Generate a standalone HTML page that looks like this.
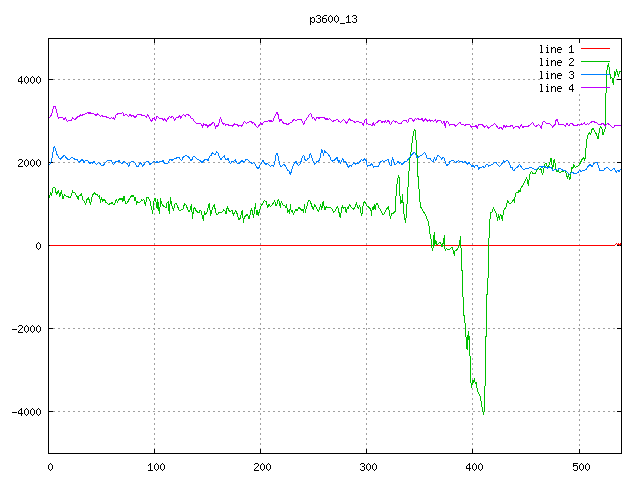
<!DOCTYPE html>
<html lang="en"><head><meta charset="utf-8"><title>p3600_13</title>
<style>
html,body{margin:0;padding:0;background:#fff}
body{width:640px;height:480px;position:relative;overflow:hidden;font-family:"Liberation Sans",sans-serif}
svg{position:absolute;left:0;top:0;display:block}
.s{position:absolute;font-size:10.67px;line-height:12px;height:12px;white-space:pre;color:transparent;overflow:hidden}
.r{text-align:right}.c{text-align:center}
.m{font-family:"Liberation Mono",monospace;font-size:10px}
</style></head><body>
<svg width="640" height="480" viewBox="0 0 640 480" shape-rendering="crispEdges" role="img" aria-label="p3600_13 line plot">
<rect width="640" height="480" fill="#fff"/>
<g stroke="#a0a0a0" stroke-width="1" stroke-dasharray="2 3" fill="none">
<line x1="53" y1="79.5" x2="621" y2="79.5"/>
<line x1="53" y1="162.5" x2="621" y2="162.5"/>
<line x1="53" y1="245.5" x2="621" y2="245.5"/>
<line x1="53" y1="328.5" x2="621" y2="328.5"/>
<line x1="53" y1="411.5" x2="621" y2="411.5"/>
<line x1="154.5" y1="43" x2="154.5" y2="453"/>
<line x1="260.5" y1="43" x2="260.5" y2="453"/>
<line x1="366.5" y1="43" x2="366.5" y2="453"/>
<line x1="472.5" y1="43" x2="472.5" y2="453"/>
<line x1="579.5" y1="44" x2="579.5" y2="453"/>
</g>
<rect x="540" y="43" width="77" height="50" fill="#fff"/><rect x="616" y="79" width="1" height="1" fill="#a0a0a0"/>
<path fill="#000" d="M48 79h5v1h-5zM617 79h5v1h-5zM48 162h5v1h-5zM617 162h5v1h-5zM48 245h5v1h-5zM617 245h5v1h-5zM48 328h5v1h-5zM617 328h5v1h-5zM48 411h5v1h-5zM617 411h5v1h-5zM48 38h1v5h-1zM48 449h1v5h-1zM154 38h1v5h-1zM154 449h1v5h-1zM260 38h1v5h-1zM260 449h1v5h-1zM366 38h1v5h-1zM366 449h1v5h-1zM472 38h1v5h-1zM472 449h1v5h-1zM579 38h1v5h-1zM579 449h1v5h-1z"/>
<rect x="48.5" y="38.5" width="573" height="415" fill="none" stroke="#000" stroke-width="1"/>
<g fill="none" stroke-width="1" stroke-linejoin="bevel">
<path d="M581 48.5h29" stroke="#ff0000"/>
<polyline points="49.5,245.5 614.5,245.5 615.5,244.5 616.5,243.5 617.5,244.5 618.5,243.5 619.5,245.5 620.5,243.5" stroke="#ff0000"/>
<path d="M581 61.5h29" stroke="#00c000"/>
<polyline points="49.25,198.12 50.5,192.5 51.5,195.62 52.75,188.5 54,187.25 55.25,188.5 56.5,195 57.75,191.25 58.62,190 59.5,196.88 60.5,195 61.25,190 62.38,196.25 63.25,199.38 64.25,194.38 65.25,195.62 66.75,196.88 68.25,196.5 69.5,198.12 70.75,196.25 71.75,193.75 72.5,190.62 73.62,193.12 74.88,192.5 76.12,195.62 77.38,196.88 78.25,200 79.25,195 80.25,196.25 81.5,193.5 82.75,199.38 84.25,201.25 85.5,204.38 87,199.38 88.62,197.5 89.5,201.88 90.5,204.38 91.75,198.12 93,194.38 94.5,192.5 95.75,195 97.38,194.75 98.62,196.88 99.5,195.62 100.5,203.12 101.5,196.88 102.5,201.88 103.62,199.38 104.5,199 105.5,201.88 106.5,202.75 107.75,203.5 108.62,205.25 109.88,203.12 111.12,203.75 112,201.88 113,204.38 114.25,205.25 115.5,201.25 116.5,199.38 117.38,202.5 118.62,200 119.88,198.75 121.12,199.38 122,198.12 122.75,201.88 123.62,198.12 124,196.25 125.5,203.12 127.12,203.12 128.75,200 130.25,197.5 131.75,195.62 132.75,196.25 133.75,195 134.62,200.62 135.5,197.5 136.5,204.38 137.5,201.88 139,202.25 140.5,201.88 141.5,199.75 142.75,200.62 143.75,199.38 144.62,202.5 145.5,206.25 146.5,198.12 147.75,197.25 149,199 150.25,201.25 151.25,206.88 152.12,210 152.75,214.38 153.38,204.38 154.62,198.75 155.5,198.12 156.25,203.12 157.12,208.75 157.75,199.38 158.75,208.75 159.62,214.38 160.5,198.5 161.5,203.12 162.5,204.38 163.75,207.25 164.62,206.25 165.88,208.12 167.12,202.75 168.38,201.25 169.25,214.38 170.5,197.5 171.5,205 172.75,207.5 173.38,211.25 174.62,204.38 176.25,203.5 177.5,206.25 179,210 180,211.25 181.5,209.38 183,209 184.62,203.5 186.25,205.62 187.75,209.38 188.75,211.88 190,210 191.5,204.38 192.5,219.38 193.38,210 194.62,207.25 195.88,210.62 197.5,211.88 198.75,213.12 200,210 201.25,211.25 202.5,217.5 203.5,221.25 204.38,210.62 205.25,215 206.25,213.12 207.5,211.25 208.5,205.62 209.5,203.12 210.5,216.25 211.5,211.25 212.5,208.12 213.5,206.25 214.38,204.38 215.25,210 216.25,213.75 217.5,215.25 218.75,211.88 220.62,212.25 222.5,211.88 223.75,209.75 224.75,210.25 226,214.38 226.88,208.75 227.5,206.25 228.5,210.62 230,211.25 231.25,211 232.25,210 233.5,215.62 234.38,213.12 235.62,210.62 236.88,213.12 238.12,217.25 239,219.38 240.25,218.12 241.25,214.38 242.25,210.25 243.12,218.75 243.5,223.12 244.38,216.88 245.62,216 247.25,214.38 248.5,217.25 249.38,219.38 250.25,213.12 251.5,208.5 252.5,212.5 253.5,217.5 254.75,208.75 255.62,203.5 256.25,213.12 257,215.25 257.75,210 258.5,215.62 259.75,210 261,206.25 262.5,203.75 264.38,200.62 266,201.25 266.88,204.38 267.75,208.12 268.75,203.75 270.25,206.88 271.88,205 273.5,203.12 274.75,200.62 276,206.25 277.25,203.12 278.5,198.75 279.5,203.12 280.38,207.5 281.25,201.25 282.25,203.75 283.5,205.62 284.75,205 285.75,207.5 286.62,203.75 287.5,212.5 288.5,210 289.5,214.38 290.38,204.38 291.25,211.88 292.25,210 293.25,214.38 294.5,211.88 296,209.38 297.25,210.62 298.75,207.5 300.38,208.5 301.62,210.62 302.88,209.75 303.75,212.5 304.5,203.75 305.38,213.12 306.25,208.12 307.5,205 308.5,200 309.75,200.62 311,203.5 312.25,207.25 313.25,210 314.75,204.38 316,206.88 317.5,210 318.75,211.25 320,206.88 320.75,204.38 321.62,210 322.5,205 323.25,200.62 324.12,206.25 325,210 326,206.88 327.5,207.25 329.12,208.12 330.38,207.25 331.62,208.75 332.88,210.62 333.75,212.25 335.38,210.62 336.62,207.5 337.5,206.25 338.5,210 339.5,214.75 340.5,218.12 341.25,210 342.25,205.62 343.25,208.75 344.12,206.88 345,207.5 346.25,213.12 347.25,207.5 348.25,208.75 349.5,203.75 350.75,206.88 352,208.12 353.5,209.38 354.75,207.5 355.75,204.38 356.5,202.25 357.62,207.5 358.5,208.75 359.25,205.62 360.12,207.5 361,213.12 361.5,215.62 362.25,212.5 363.25,204.38 364.5,201.25 365.5,203.12 366.75,205.62 368.25,206.88 369.5,208.12 370.75,208.75 371.5,215.62 372.25,207.5 373.25,210 374.25,204.38 375.12,210 376.38,203.5 377.62,203.75 378.88,207.5 380.5,210 382,213.12 383.25,215.25 384.75,212.5 386,210.25 387.25,208.12 388.5,206.25 389.5,213.12 390.5,219.38 391.38,213.12 392.25,214 393.88,212.5 395.12,211.25 395.75,201.25 396.5,187.5 397.62,180.62 398.5,175.25 399.25,177.5 399.75,191.25 400.5,204.38 401.38,200 402,203.12 402.5,194 403.25,205 404.25,216.25 405.5,222.5 406.5,213.12 407.5,196.25 408.5,177.75 409.5,165 410.12,156.25 411,152.5 411.75,145 412.62,138.12 413.5,132.5 414.5,129 415.5,130.62 416,140 416.75,150 417.25,158.75 417.62,175 418.25,177.5 419.25,192.5 420.12,203.12 420.75,207.25 422.25,209.38 423.88,212.5 425.5,214.38 426.75,218.75 428.25,221.88 429.25,226.88 430.12,235 431.38,241.25 432.25,250.62 433,248.12 433.5,240 434.25,232.5 434.75,245.62 435.75,240 437,245 438.5,243.5 440.5,241.88 441.75,246.5 442.62,246.25 443.5,240 444.5,235.25 445.12,251.25 446.38,248.12 447.25,249.38 448.88,250 450.5,248.5 452.25,247.5 453.5,251.88 454.5,255.62 455.12,250 456.38,250.62 457.62,248.75 458.5,246.88 459.5,243.12 460.5,236.25 461,247.5 461.5,260 461.5,260 461.5,270 462.5,270.62 462.5,296.88 463.5,297.5 463.5,315 463.5,315 464.5,315.62 464.5,322.5 465.5,323.12 465.5,336.88 466.5,337.5 466.5,347.5 467.5,350 467.5,340 468.5,331.25 469,340 469.5,336.25 469.5,355.62 470.5,356.25 470.5,365 470.5,378.75 471.5,387.5 472.25,383.75 472.75,380 473.5,382.5 474.5,378.12 475.25,383.75 476.25,382.5 477.25,389.38 478.5,393.12 479.38,395 480.25,396.25 481.25,402.5 482.25,408.12 483.5,414.75 484.5,410 484.5,386.25 485.5,385.62 485.5,365 485.5,336.88 486.5,336.25 486.5,310 486.5,295 487.5,294.38 487.5,278.12 488.5,277.5 488.5,256.88 488.88,241.25 489.5,225 490.5,212.5 492.12,212.25 493.38,207.5 494.62,210.62 495.88,212.25 497.12,217.5 497.75,220.62 498.5,214.38 499.25,220 500.25,214.38 501.5,216.25 502.5,220.62 503.38,211.25 504.62,209.38 506.25,206.25 507.75,200.62 509,203.12 510.25,204 512.12,201.88 513.75,199.38 514.5,203.12 515.25,194.38 516.75,191.88 517.75,193.12 519,190.62 520,191.88 521.25,187.5 522.75,185.62 524,183.12 525.5,180 526.5,177.5 527.5,181.25 528.38,186.25 529.25,177.5 530.25,173.12 531.5,171.25 532.75,174 534,172.75 535,174 536.75,170 538.38,167.5 539.62,170 540.88,168.75 542.5,175 543.75,169.75 544.62,164.38 546.25,163.5 547.75,168.12 549.62,163.75 550.88,158.75 551.5,158.5 552.5,171.25 553.75,160 554.62,159.38 555.5,167.5 557.12,171.88 558.38,170.62 559.62,173.12 561.25,171.88 562.75,171.88 564.62,170.62 566.25,173.12 567.5,179.38 568.38,173.75 569.62,180 570.25,178.75 571.5,166.88 572.75,168.75 573.75,164.38 575.25,167.5 577.12,166.25 578.75,165.62 580.25,163.12 582.12,159.38 582.5,159.38 583.75,157.5 584.75,161.25 585.62,153.12 586.5,142.5 587.5,136.25 589.38,132.5 590.62,134.75 592.5,127.75 594.38,130.62 596.25,133.75 598.12,139.38 599.38,130 600.62,126.25 601.88,127.75 603.12,135.25 604.38,131.25 605.5,127.75 605.5,95 605.5,93.5 606.5,92.5 606.5,72.5 607.6,66.9 608.6,63.1 609.7,72.8 610.8,78.4 611.8,77 612.9,83 613.5,84.5 614.5,71.3 615.5,75.6 616.5,69 617.5,73 618.5,76.5 619.5,72 620.5,71" stroke="#00c000"/>
<path d="M581 74.5h29" stroke="#0080ff"/>
<polyline points="49.25,164.38 50.75,163.12 52.38,156.88 53.62,148.12 54.5,146.25 55.75,150 57,154.38 58.62,157.5 60.25,159.38 61.75,157.5 63.25,156.25 64.5,155.38 66.12,157.75 67.75,159.38 69.88,159.38 71.75,157.25 73.62,158.5 75.5,159.75 77.38,159.75 79.25,162.5 80.75,160.62 82.38,159.38 84,162.5 85.5,160.62 87,160 88.62,161.88 89.88,163.75 91.12,161.88 92.38,163.5 94,161.25 95.5,163.5 96.75,164.38 98.25,162.5 99.88,163.5 101.5,165.25 103.62,165.25 105.25,162.5 107.38,160.38 109.25,160.62 111.12,160.38 112.38,163.12 113.62,164.38 114.88,162.5 116.5,161 118,161.5 119,160.38 120.5,162.75 121.75,163.5 123,162.5 124,161.25 125.88,162.75 127.5,163.75 128.75,166.5 130,162.75 131.75,161.25 133.38,161.5 135,162.75 136.5,166.25 138.38,166.25 140,162.75 141.25,163.5 142.5,166.5 144,164.38 145.5,162.5 147.12,161.25 148.38,161.88 149.62,164.38 151.5,163.5 153.38,161.88 154.62,161.25 155.88,162.75 157.12,161.5 158.38,162.75 160.25,161.25 162.12,161.25 163.38,160.62 164.25,163.12 166.5,163.5 168,163.12 169.62,160 170.88,159.38 172.12,160.38 174,159 175.88,158.12 177.75,157.75 179,157.5 180.25,159 181.5,161.25 182.75,157.75 184.25,156.5 185.88,155.38 187.75,156.5 189,157.25 190.25,159.38 191.5,161.25 192.75,156.88 194.25,156.5 195.88,157.75 197.5,159.75 199,160 200,160.38 201.88,162.75 203.75,160.62 205.62,159 206.88,159.38 208.12,160.38 209.38,156.5 211,155.62 212.5,152.5 214.38,154.38 215.62,155 216.5,151.5 218.12,153.12 219.38,156.88 221,159.38 222.5,157.25 224.38,155.62 225.62,160 226.88,159.38 228.12,158.5 229.38,161.88 230.62,163.5 232.25,161.25 233.75,161.25 235.25,159.75 236.5,162.5 238.12,163.75 240,162.75 241.88,160.38 243.75,162.25 245.25,160.38 246.88,159 248.75,160.62 250.62,162.5 252.25,163.5 253.75,162.75 255.25,164.38 256.88,167.25 258.5,168.75 259.75,165.62 261.25,163.5 263.12,160.38 264.38,162.75 266,164.38 267.5,163.12 269,165 270.25,166.5 271.88,165.62 273.5,166.25 274.75,163.12 276,155 277.25,153.12 278.25,156.88 279.5,163.75 281,166.5 282.5,165.62 283.75,164.38 285,165.62 286.25,167.5 287.5,170 288.75,170.62 290.38,174.38 291.62,170.62 292.88,166.25 294.5,163.12 296,161.5 297.5,164.38 298.5,165.62 300,163.75 301.62,160 302.5,156.25 303.75,155.62 305,159.38 306,161.25 307.5,159 308.75,158.5 309.75,155 310.75,153.75 312,158.12 313.5,161.88 315,164.38 316.62,161.88 318.25,161.25 319.5,160 320.75,154.38 321.62,149.38 322.88,152.5 323.5,155.62 324.5,150.62 325.75,152.25 327.25,153.12 328.5,155 329.75,156.25 331.25,160.38 332.88,161.25 334.5,160 336,158.5 337.25,157.5 338.5,162.5 339.5,160.38 340.38,163.75 341.62,160.62 342.5,158.5 343.75,161.25 345.38,161.25 347,164.38 348.5,167.5 350,165.62 351.62,166.5 352,165.25 353.88,162.75 355.75,164.38 357.62,162.75 358.88,163.5 360.5,160.62 361.75,159.38 363,161.25 364.5,158.5 366,160.38 367.25,166.25 368.88,165 370.5,165.25 371.75,163.75 373.5,167.25 374.75,166.25 376.38,166.88 378.25,166.88 379.75,162.5 381.38,161.25 382.62,160.62 383.88,161.88 385.12,160.62 386.75,160 388.25,159.38 389.5,163.75 390.75,166.25 391.75,163.75 392.25,157.5 393.5,159.38 394.5,164 396.38,164 398,161.25 399.25,163.12 400.5,162.5 402,165 403.25,163.12 404.5,161.88 407,161.25 408.88,158.12 410.5,156.25 412.62,153.75 414.5,151.88 415.75,154.38 417,157.75 418.88,156.88 420.75,155.62 422.62,154.38 424.5,152.5 425.75,154.38 426.75,157.75 428,158.5 430.25,158.5 431.5,160.62 433.25,162.25 434.5,157.5 435.5,161.25 436.5,158.12 437.75,155.38 439.25,156.25 440.5,157.5 441.75,159.38 443,157.25 444.25,158.5 445.5,163.12 446.75,166.25 447.75,164.38 448.62,165 449.88,161.5 451.5,160.62 453,160 454.5,161.25 455.75,163.12 457.38,161.25 458.62,160.38 460.25,161.88 461.75,161.25 463,162.5 464.88,161.25 466.5,163.12 467.75,164.38 469,162.5 470.5,164.38 471.75,166.5 473,165.62 474.25,167.25 475.5,165.62 477,165 478,166.88 478.62,170 479.88,166.88 481.5,167.25 483,166.25 484.5,168.12 485.75,165 487.38,164 488.62,166.25 490.5,165.25 492.38,164.38 494.25,162.5 496.12,162.5 497.75,165 499.25,166.5 501.12,165 502.38,162.75 503.62,160.62 504,162.25 505.88,161.25 507.12,160 508.38,161.88 510,165 510.88,167.5 512.12,166.88 513.38,171.25 515.25,168.75 517.12,167.25 518.38,166.25 519.62,164.38 520.88,166.25 522.5,168.5 524,169.75 525.88,168.5 528.38,168.5 530.88,167.25 532.75,168.5 535,169.75 536.75,169.38 538.38,167.25 540.25,166.5 542.12,167.25 544,166.25 545.88,167.25 547.75,168.12 549.62,166.88 551.5,167.5 553,171.25 554.25,169.75 555.88,169.38 557.5,170.62 559,168.5 560,168.5 561.88,169.75 563.75,170.62 565.62,170.25 567.5,172.5 569.38,174.75 571,173.12 572.5,172.25 574.38,173.5 576.25,173.5 578.12,172.5 579.75,170.25 581,171.88 582.5,170.62 584.38,170.25 586.25,169.38 588.12,166.25 590,164.75 591.25,165.62 592.25,166.5 593.75,163.75 595.62,162.5 597.25,162.75 598.5,166.25 600,171 601.88,170.25 603.5,171 604.75,168.75 606.88,167.25 608.75,168.75 610.62,170.62 612.25,169.75 614,168.5 615.62,170.62 616.5,173.12 617.5,169.75 619,171.88 620.62,169.38 621,170" stroke="#0080ff"/>
<path d="M581 87.5h29" stroke="#c000ff"/>
<polyline points="49.25,118.12 51.75,114.38 53.62,106.88 55.5,106.5 57.38,115 58.62,118.5 60.5,116.88 61.75,118.12 62.75,117.5 63.62,120 65.25,117.5 67.38,121.5 68.62,120 71.12,120.38 72.62,117.75 74.25,119.38 75.75,119 78,116.25 79,116.88 80.75,114.75 82,115.38 83,114.38 84.25,114.38 86.12,113.38 88,112.25 89,114.12 89.88,112.5 91.12,113.75 93.62,113.5 96.12,115.62 97.62,113.5 100.5,116.5 101.75,115.25 103,116.5 105.5,116.5 108,117.75 109.88,118.5 111.75,117.5 113,118.75 113.62,117.25 114.5,119.38 116.12,114.75 118.62,113.5 121.12,113.75 122.62,112.5 124,115.62 126.5,114.38 128.75,116.5 130,114.38 131.5,116.25 132.75,115 133.75,116.25 135.25,117.5 137.12,115 139,114.12 140.88,114.38 142.75,116 144.62,115.62 146.5,117.5 147.75,114.38 149,116.88 150.5,120 151.5,122.25 152.75,118.12 154,118.75 154.62,117.5 155.25,121.25 156.75,116.25 158,117.25 159.62,118.38 162.12,118.5 163.75,120.62 164.62,118.38 166.5,121.5 167.75,118.75 169.62,116.5 170.88,118.12 172.12,116.5 173.38,117.5 174.62,120.38 175.88,118.12 177.12,116.88 178.38,117.5 179.62,115.62 180.88,118.5 181.75,116.25 183.75,114.38 185.25,116.25 186.5,114.38 188,114.62 189.62,115.62 191.5,118.75 192.75,118.5 194.62,121.88 196.5,123.12 198.38,123.5 200,123.5 201.25,124.38 202.5,127.5 203.5,123.75 205,124.38 206,125.62 206.88,124.75 207.75,127.5 209,124.75 210.25,125.62 211.88,123.5 213.75,122.25 214.75,124.75 215.62,128.5 216.5,125.62 217.5,126.25 218.75,124.38 219.75,119.38 220.62,117.5 221.88,121.88 223.5,124.38 224.75,123.5 225.62,125.25 226.88,124 228.75,125.25 230.62,125.62 232.5,126.25 234.38,123.75 235.62,125 236.88,124.38 238.75,126.25 240,125 241.25,126.5 242.75,124.38 244.38,121.5 246.5,123.5 248.12,122.5 249.75,121.25 251.25,121.5 252.5,123.12 253.75,122.5 255.62,125.62 257.5,127.75 259.38,125 260.62,122.5 261.88,125 263.12,123.12 264.75,121.25 266.88,121.88 268.5,120.62 270,121.25 271.25,120.62 272.5,122.25 274,118.12 275.62,114.38 276,113.75 277,112.5 278.25,115 279.5,121.88 281,119.38 282.88,122.25 284.5,124 286,123.5 287.88,125 289.12,123.5 290.75,122.5 291.62,123.12 292.88,120.62 294.5,119.38 296,121 297.5,119.38 299.5,119.38 301,119.38 302.5,122.25 303.75,124.75 305,121.25 306.62,118.75 308.25,116.88 309.5,114.38 310.75,113.5 311.62,115 312.5,119.38 313.25,116.88 314.75,119.38 315.38,120.62 316.25,118.12 317.88,117.5 319.12,118.5 320.38,117.25 322.25,117.5 324.12,117.5 326,119.38 327.25,118.5 328.5,120 329.5,118.5 331,120.25 332.5,121.5 334.12,120.62 335.75,120 337.25,119.38 339.12,121.5 340.75,122.5 342,121.25 343.5,119.38 345,121 346.62,123.5 348.25,120.62 349.75,118.5 351,120.62 352,120.62 353.88,121.25 355.12,122.75 356.38,121.25 358.25,121.88 360.12,122.5 362,123.12 363.5,126.25 364.5,120.62 366,119.38 367,123.5 368.88,124.38 370.75,124.75 372.25,126.25 373.25,122.5 374.25,126.25 375.5,123.12 377,122.5 378.88,120.62 380.75,120.62 382,122.5 383.25,121 384.25,122.5 385.5,120.62 386.38,123.12 388.25,119.75 389.5,122.5 390.5,125 392,121.88 393.5,120.62 395.12,122.25 396.38,121.5 398,123.12 399.5,123.12 401.38,123.12 403.25,120.62 405.12,120.25 406.38,120.62 407.62,123.12 408.88,119.38 410.12,118.12 412,119 413.5,121.25 415.12,118.5 416.38,119.38 417.62,118.12 419.5,120 420.75,119.38 422.25,118.5 423.5,121.88 425.12,118.5 426.75,120.62 428,121.25 429.5,119.75 430.75,121.25 432,119.75 433.62,121.5 435.25,119.38 436.5,122.5 437.75,120.38 440.5,120.38 442.38,123.5 444,121.5 445.25,127.5 446.12,121.88 447.38,121.25 448.62,122.75 449.5,126.25 450.5,124.38 454.25,124.38 455.5,126.25 457.38,124.38 459,123.12 460.25,122.5 461.5,125 463.25,124.38 464.88,125.38 466.5,124.38 468,125 469.88,124.75 471.5,127.25 473,126.25 474.88,126.5 476.12,125 477.38,128.5 478.25,124.75 479.88,125 481.5,124.38 483,125.38 484.88,127.25 486.12,125.62 487.38,126.25 488.62,128.5 490.25,126.88 491.75,125.38 493,125 494.5,123.5 496.12,125 497.38,127.25 499,128.75 500.5,126.88 502.38,129.38 504,125.62 505.25,127.5 506.5,125.62 507.75,126.88 509.62,126.25 512.12,125.62 513.75,128.75 515.25,126.5 517.75,126.25 519.25,128.5 521.25,124.38 522.75,127.5 524.62,126.25 527.75,126.25 529.62,125.62 530.88,124.38 532.5,122.25 534,125 535.88,126.5 537.12,125.62 538.38,124.38 540,126 541.25,128.5 542.5,122.5 544,121.25 546.5,123.5 549.62,123.5 551.25,125 552.75,127.5 554,125.62 555,124.75 555.88,120.62 557.5,119.38 558.38,124.38 560.88,124.38 563.75,124.75 565.25,126.5 566.88,123.5 568.75,125.62 570.62,123.5 572.5,124 574.38,125.62 576.25,126 578.12,124.38 579.75,125.62 581.25,123.5 582.5,125 584.38,122.5 585.62,125 587.25,123.5 588.75,124.38 590.62,122.5 593.12,121.25 595,122.25 596.88,123.12 598.75,125 600.62,124.38 602.5,123.5 604.38,124.38 605.25,126.25 607.25,123.5 609.38,124.38 611.25,126.5 613.12,127.75 615,125.62 616.88,125.38 621,125.38" stroke="#c000ff"/>
</g>
<path fill="#000" d="M310 17h1v1h-1zM312 17h2v1h-2zM310 18h2v1h-2zM314 18h1v1h-1zM310 19h1v1h-1zM314 19h1v1h-1zM310 20h1v1h-1zM314 20h1v1h-1zM310 21h2v1h-2zM314 21h1v1h-1zM310 22h1v1h-1zM312 22h2v1h-2zM310 23h1v1h-1zM310 24h1v1h-1zM317 15h3v1h-3zM316 16h1v1h-1zM320 16h1v1h-1zM320 17h1v1h-1zM318 18h2v1h-2zM320 19h1v1h-1zM320 20h1v1h-1zM316 21h1v1h-1zM320 21h1v1h-1zM317 22h3v1h-3zM324 15h3v1h-3zM323 16h1v1h-1zM322 17h1v1h-1zM322 18h4v1h-4zM322 19h1v1h-1zM326 19h1v1h-1zM322 20h1v1h-1zM326 20h1v1h-1zM322 21h1v1h-1zM326 21h1v1h-1zM323 22h3v1h-3zM330 15h1v1h-1zM329 16h1v1h-1zM331 16h1v1h-1zM328 17h1v1h-1zM332 17h1v1h-1zM328 18h1v1h-1zM332 18h1v1h-1zM328 19h1v1h-1zM332 19h1v1h-1zM328 20h1v1h-1zM332 20h1v1h-1zM329 21h1v1h-1zM331 21h1v1h-1zM330 22h1v1h-1zM336 15h1v1h-1zM335 16h1v1h-1zM337 16h1v1h-1zM334 17h1v1h-1zM338 17h1v1h-1zM334 18h1v1h-1zM338 18h1v1h-1zM334 19h1v1h-1zM338 19h1v1h-1zM334 20h1v1h-1zM338 20h1v1h-1zM335 21h1v1h-1zM337 21h1v1h-1zM336 22h1v1h-1zM340 23h5v1h-5zM348 15h1v1h-1zM347 16h2v1h-2zM346 17h1v1h-1zM348 17h1v1h-1zM348 18h1v1h-1zM348 19h1v1h-1zM348 20h1v1h-1zM348 21h1v1h-1zM346 22h5v1h-5zM353 15h3v1h-3zM352 16h1v1h-1zM356 16h1v1h-1zM356 17h1v1h-1zM354 18h2v1h-2zM356 19h1v1h-1zM356 20h1v1h-1zM352 21h1v1h-1zM356 21h1v1h-1zM353 22h3v1h-3zM21 76h1v1h-1zM20 77h2v1h-2zM19 78h1v1h-1zM21 78h1v1h-1zM18 79h1v1h-1zM21 79h1v1h-1zM18 80h1v1h-1zM21 80h1v1h-1zM18 81h5v1h-5zM21 82h1v1h-1zM21 83h1v1h-1zM26 76h1v1h-1zM25 77h1v1h-1zM27 77h1v1h-1zM24 78h1v1h-1zM28 78h1v1h-1zM24 79h1v1h-1zM28 79h1v1h-1zM24 80h1v1h-1zM28 80h1v1h-1zM24 81h1v1h-1zM28 81h1v1h-1zM25 82h1v1h-1zM27 82h1v1h-1zM26 83h1v1h-1zM32 76h1v1h-1zM31 77h1v1h-1zM33 77h1v1h-1zM30 78h1v1h-1zM34 78h1v1h-1zM30 79h1v1h-1zM34 79h1v1h-1zM30 80h1v1h-1zM34 80h1v1h-1zM30 81h1v1h-1zM34 81h1v1h-1zM31 82h1v1h-1zM33 82h1v1h-1zM32 83h1v1h-1zM38 76h1v1h-1zM37 77h1v1h-1zM39 77h1v1h-1zM36 78h1v1h-1zM40 78h1v1h-1zM36 79h1v1h-1zM40 79h1v1h-1zM36 80h1v1h-1zM40 80h1v1h-1zM36 81h1v1h-1zM40 81h1v1h-1zM37 82h1v1h-1zM39 82h1v1h-1zM38 83h1v1h-1zM19 159h3v1h-3zM18 160h1v1h-1zM22 160h1v1h-1zM22 161h1v1h-1zM21 162h1v1h-1zM20 163h1v1h-1zM19 164h1v1h-1zM18 165h1v1h-1zM18 166h5v1h-5zM26 159h1v1h-1zM25 160h1v1h-1zM27 160h1v1h-1zM24 161h1v1h-1zM28 161h1v1h-1zM24 162h1v1h-1zM28 162h1v1h-1zM24 163h1v1h-1zM28 163h1v1h-1zM24 164h1v1h-1zM28 164h1v1h-1zM25 165h1v1h-1zM27 165h1v1h-1zM26 166h1v1h-1zM32 159h1v1h-1zM31 160h1v1h-1zM33 160h1v1h-1zM30 161h1v1h-1zM34 161h1v1h-1zM30 162h1v1h-1zM34 162h1v1h-1zM30 163h1v1h-1zM34 163h1v1h-1zM30 164h1v1h-1zM34 164h1v1h-1zM31 165h1v1h-1zM33 165h1v1h-1zM32 166h1v1h-1zM38 159h1v1h-1zM37 160h1v1h-1zM39 160h1v1h-1zM36 161h1v1h-1zM40 161h1v1h-1zM36 162h1v1h-1zM40 162h1v1h-1zM36 163h1v1h-1zM40 163h1v1h-1zM36 164h1v1h-1zM40 164h1v1h-1zM37 165h1v1h-1zM39 165h1v1h-1zM38 166h1v1h-1zM38 242h1v1h-1zM37 243h1v1h-1zM39 243h1v1h-1zM36 244h1v1h-1zM40 244h1v1h-1zM36 245h1v1h-1zM40 245h1v1h-1zM36 246h1v1h-1zM40 246h1v1h-1zM36 247h1v1h-1zM40 247h1v1h-1zM37 248h1v1h-1zM39 248h1v1h-1zM38 249h1v1h-1zM12 329h5v1h-5zM19 325h3v1h-3zM18 326h1v1h-1zM22 326h1v1h-1zM22 327h1v1h-1zM21 328h1v1h-1zM20 329h1v1h-1zM19 330h1v1h-1zM18 331h1v1h-1zM18 332h5v1h-5zM26 325h1v1h-1zM25 326h1v1h-1zM27 326h1v1h-1zM24 327h1v1h-1zM28 327h1v1h-1zM24 328h1v1h-1zM28 328h1v1h-1zM24 329h1v1h-1zM28 329h1v1h-1zM24 330h1v1h-1zM28 330h1v1h-1zM25 331h1v1h-1zM27 331h1v1h-1zM26 332h1v1h-1zM32 325h1v1h-1zM31 326h1v1h-1zM33 326h1v1h-1zM30 327h1v1h-1zM34 327h1v1h-1zM30 328h1v1h-1zM34 328h1v1h-1zM30 329h1v1h-1zM34 329h1v1h-1zM30 330h1v1h-1zM34 330h1v1h-1zM31 331h1v1h-1zM33 331h1v1h-1zM32 332h1v1h-1zM38 325h1v1h-1zM37 326h1v1h-1zM39 326h1v1h-1zM36 327h1v1h-1zM40 327h1v1h-1zM36 328h1v1h-1zM40 328h1v1h-1zM36 329h1v1h-1zM40 329h1v1h-1zM36 330h1v1h-1zM40 330h1v1h-1zM37 331h1v1h-1zM39 331h1v1h-1zM38 332h1v1h-1zM12 412h5v1h-5zM21 408h1v1h-1zM20 409h2v1h-2zM19 410h1v1h-1zM21 410h1v1h-1zM18 411h1v1h-1zM21 411h1v1h-1zM18 412h1v1h-1zM21 412h1v1h-1zM18 413h5v1h-5zM21 414h1v1h-1zM21 415h1v1h-1zM26 408h1v1h-1zM25 409h1v1h-1zM27 409h1v1h-1zM24 410h1v1h-1zM28 410h1v1h-1zM24 411h1v1h-1zM28 411h1v1h-1zM24 412h1v1h-1zM28 412h1v1h-1zM24 413h1v1h-1zM28 413h1v1h-1zM25 414h1v1h-1zM27 414h1v1h-1zM26 415h1v1h-1zM32 408h1v1h-1zM31 409h1v1h-1zM33 409h1v1h-1zM30 410h1v1h-1zM34 410h1v1h-1zM30 411h1v1h-1zM34 411h1v1h-1zM30 412h1v1h-1zM34 412h1v1h-1zM30 413h1v1h-1zM34 413h1v1h-1zM31 414h1v1h-1zM33 414h1v1h-1zM32 415h1v1h-1zM38 408h1v1h-1zM37 409h1v1h-1zM39 409h1v1h-1zM36 410h1v1h-1zM40 410h1v1h-1zM36 411h1v1h-1zM40 411h1v1h-1zM36 412h1v1h-1zM40 412h1v1h-1zM36 413h1v1h-1zM40 413h1v1h-1zM37 414h1v1h-1zM39 414h1v1h-1zM38 415h1v1h-1zM50 463h1v1h-1zM49 464h1v1h-1zM51 464h1v1h-1zM48 465h1v1h-1zM52 465h1v1h-1zM48 466h1v1h-1zM52 466h1v1h-1zM48 467h1v1h-1zM52 467h1v1h-1zM48 468h1v1h-1zM52 468h1v1h-1zM49 469h1v1h-1zM51 469h1v1h-1zM50 470h1v1h-1zM150 463h1v1h-1zM149 464h2v1h-2zM148 465h1v1h-1zM150 465h1v1h-1zM150 466h1v1h-1zM150 467h1v1h-1zM150 468h1v1h-1zM150 469h1v1h-1zM148 470h5v1h-5zM156 463h1v1h-1zM155 464h1v1h-1zM157 464h1v1h-1zM154 465h1v1h-1zM158 465h1v1h-1zM154 466h1v1h-1zM158 466h1v1h-1zM154 467h1v1h-1zM158 467h1v1h-1zM154 468h1v1h-1zM158 468h1v1h-1zM155 469h1v1h-1zM157 469h1v1h-1zM156 470h1v1h-1zM162 463h1v1h-1zM161 464h1v1h-1zM163 464h1v1h-1zM160 465h1v1h-1zM164 465h1v1h-1zM160 466h1v1h-1zM164 466h1v1h-1zM160 467h1v1h-1zM164 467h1v1h-1zM160 468h1v1h-1zM164 468h1v1h-1zM161 469h1v1h-1zM163 469h1v1h-1zM162 470h1v1h-1zM255 463h3v1h-3zM254 464h1v1h-1zM258 464h1v1h-1zM258 465h1v1h-1zM257 466h1v1h-1zM256 467h1v1h-1zM255 468h1v1h-1zM254 469h1v1h-1zM254 470h5v1h-5zM262 463h1v1h-1zM261 464h1v1h-1zM263 464h1v1h-1zM260 465h1v1h-1zM264 465h1v1h-1zM260 466h1v1h-1zM264 466h1v1h-1zM260 467h1v1h-1zM264 467h1v1h-1zM260 468h1v1h-1zM264 468h1v1h-1zM261 469h1v1h-1zM263 469h1v1h-1zM262 470h1v1h-1zM268 463h1v1h-1zM267 464h1v1h-1zM269 464h1v1h-1zM266 465h1v1h-1zM270 465h1v1h-1zM266 466h1v1h-1zM270 466h1v1h-1zM266 467h1v1h-1zM270 467h1v1h-1zM266 468h1v1h-1zM270 468h1v1h-1zM267 469h1v1h-1zM269 469h1v1h-1zM268 470h1v1h-1zM361 463h3v1h-3zM360 464h1v1h-1zM364 464h1v1h-1zM364 465h1v1h-1zM362 466h2v1h-2zM364 467h1v1h-1zM364 468h1v1h-1zM360 469h1v1h-1zM364 469h1v1h-1zM361 470h3v1h-3zM368 463h1v1h-1zM367 464h1v1h-1zM369 464h1v1h-1zM366 465h1v1h-1zM370 465h1v1h-1zM366 466h1v1h-1zM370 466h1v1h-1zM366 467h1v1h-1zM370 467h1v1h-1zM366 468h1v1h-1zM370 468h1v1h-1zM367 469h1v1h-1zM369 469h1v1h-1zM368 470h1v1h-1zM374 463h1v1h-1zM373 464h1v1h-1zM375 464h1v1h-1zM372 465h1v1h-1zM376 465h1v1h-1zM372 466h1v1h-1zM376 466h1v1h-1zM372 467h1v1h-1zM376 467h1v1h-1zM372 468h1v1h-1zM376 468h1v1h-1zM373 469h1v1h-1zM375 469h1v1h-1zM374 470h1v1h-1zM469 463h1v1h-1zM468 464h2v1h-2zM467 465h1v1h-1zM469 465h1v1h-1zM466 466h1v1h-1zM469 466h1v1h-1zM466 467h1v1h-1zM469 467h1v1h-1zM466 468h5v1h-5zM469 469h1v1h-1zM469 470h1v1h-1zM474 463h1v1h-1zM473 464h1v1h-1zM475 464h1v1h-1zM472 465h1v1h-1zM476 465h1v1h-1zM472 466h1v1h-1zM476 466h1v1h-1zM472 467h1v1h-1zM476 467h1v1h-1zM472 468h1v1h-1zM476 468h1v1h-1zM473 469h1v1h-1zM475 469h1v1h-1zM474 470h1v1h-1zM480 463h1v1h-1zM479 464h1v1h-1zM481 464h1v1h-1zM478 465h1v1h-1zM482 465h1v1h-1zM478 466h1v1h-1zM482 466h1v1h-1zM478 467h1v1h-1zM482 467h1v1h-1zM478 468h1v1h-1zM482 468h1v1h-1zM479 469h1v1h-1zM481 469h1v1h-1zM480 470h1v1h-1zM573 463h5v1h-5zM573 464h1v1h-1zM573 465h4v1h-4zM573 466h1v1h-1zM577 466h1v1h-1zM577 467h1v1h-1zM577 468h1v1h-1zM573 469h1v1h-1zM577 469h1v1h-1zM574 470h3v1h-3zM581 463h1v1h-1zM580 464h1v1h-1zM582 464h1v1h-1zM579 465h1v1h-1zM583 465h1v1h-1zM579 466h1v1h-1zM583 466h1v1h-1zM579 467h1v1h-1zM583 467h1v1h-1zM579 468h1v1h-1zM583 468h1v1h-1zM580 469h1v1h-1zM582 469h1v1h-1zM581 470h1v1h-1zM587 463h1v1h-1zM586 464h1v1h-1zM588 464h1v1h-1zM585 465h1v1h-1zM589 465h1v1h-1zM585 466h1v1h-1zM589 466h1v1h-1zM585 467h1v1h-1zM589 467h1v1h-1zM585 468h1v1h-1zM589 468h1v1h-1zM586 469h1v1h-1zM588 469h1v1h-1zM587 470h1v1h-1zM540 45h2v1h-2zM541 46h1v1h-1zM541 47h1v1h-1zM541 48h1v1h-1zM541 49h1v1h-1zM541 50h1v1h-1zM541 51h1v1h-1zM540 52h3v1h-3zM547 45h1v1h-1zM546 47h2v1h-2zM547 48h1v1h-1zM547 49h1v1h-1zM547 50h1v1h-1zM547 51h1v1h-1zM546 52h3v1h-3zM551 47h1v1h-1zM553 47h2v1h-2zM551 48h2v1h-2zM555 48h1v1h-1zM551 49h1v1h-1zM555 49h1v1h-1zM551 50h1v1h-1zM555 50h1v1h-1zM551 51h1v1h-1zM555 51h1v1h-1zM551 52h1v1h-1zM555 52h1v1h-1zM558 47h3v1h-3zM557 48h1v1h-1zM561 48h1v1h-1zM557 49h5v1h-5zM557 50h1v1h-1zM557 51h1v1h-1zM558 52h3v1h-3zM571 45h1v1h-1zM570 46h2v1h-2zM569 47h1v1h-1zM571 47h1v1h-1zM571 48h1v1h-1zM571 49h1v1h-1zM571 50h1v1h-1zM571 51h1v1h-1zM569 52h5v1h-5zM540 58h2v1h-2zM541 59h1v1h-1zM541 60h1v1h-1zM541 61h1v1h-1zM541 62h1v1h-1zM541 63h1v1h-1zM541 64h1v1h-1zM540 65h3v1h-3zM547 58h1v1h-1zM546 60h2v1h-2zM547 61h1v1h-1zM547 62h1v1h-1zM547 63h1v1h-1zM547 64h1v1h-1zM546 65h3v1h-3zM551 60h1v1h-1zM553 60h2v1h-2zM551 61h2v1h-2zM555 61h1v1h-1zM551 62h1v1h-1zM555 62h1v1h-1zM551 63h1v1h-1zM555 63h1v1h-1zM551 64h1v1h-1zM555 64h1v1h-1zM551 65h1v1h-1zM555 65h1v1h-1zM558 60h3v1h-3zM557 61h1v1h-1zM561 61h1v1h-1zM557 62h5v1h-5zM557 63h1v1h-1zM557 64h1v1h-1zM558 65h3v1h-3zM570 58h3v1h-3zM569 59h1v1h-1zM573 59h1v1h-1zM573 60h1v1h-1zM572 61h1v1h-1zM571 62h1v1h-1zM570 63h1v1h-1zM569 64h1v1h-1zM569 65h5v1h-5zM540 71h2v1h-2zM541 72h1v1h-1zM541 73h1v1h-1zM541 74h1v1h-1zM541 75h1v1h-1zM541 76h1v1h-1zM541 77h1v1h-1zM540 78h3v1h-3zM547 71h1v1h-1zM546 73h2v1h-2zM547 74h1v1h-1zM547 75h1v1h-1zM547 76h1v1h-1zM547 77h1v1h-1zM546 78h3v1h-3zM551 73h1v1h-1zM553 73h2v1h-2zM551 74h2v1h-2zM555 74h1v1h-1zM551 75h1v1h-1zM555 75h1v1h-1zM551 76h1v1h-1zM555 76h1v1h-1zM551 77h1v1h-1zM555 77h1v1h-1zM551 78h1v1h-1zM555 78h1v1h-1zM558 73h3v1h-3zM557 74h1v1h-1zM561 74h1v1h-1zM557 75h5v1h-5zM557 76h1v1h-1zM557 77h1v1h-1zM558 78h3v1h-3zM570 71h3v1h-3zM569 72h1v1h-1zM573 72h1v1h-1zM573 73h1v1h-1zM571 74h2v1h-2zM573 75h1v1h-1zM573 76h1v1h-1zM569 77h1v1h-1zM573 77h1v1h-1zM570 78h3v1h-3zM540 84h2v1h-2zM541 85h1v1h-1zM541 86h1v1h-1zM541 87h1v1h-1zM541 88h1v1h-1zM541 89h1v1h-1zM541 90h1v1h-1zM540 91h3v1h-3zM547 84h1v1h-1zM546 86h2v1h-2zM547 87h1v1h-1zM547 88h1v1h-1zM547 89h1v1h-1zM547 90h1v1h-1zM546 91h3v1h-3zM551 86h1v1h-1zM553 86h2v1h-2zM551 87h2v1h-2zM555 87h1v1h-1zM551 88h1v1h-1zM555 88h1v1h-1zM551 89h1v1h-1zM555 89h1v1h-1zM551 90h1v1h-1zM555 90h1v1h-1zM551 91h1v1h-1zM555 91h1v1h-1zM558 86h3v1h-3zM557 87h1v1h-1zM561 87h1v1h-1zM557 88h5v1h-5zM557 89h1v1h-1zM557 90h1v1h-1zM558 91h3v1h-3zM572 84h1v1h-1zM571 85h2v1h-2zM570 86h1v1h-1zM572 86h1v1h-1zM569 87h1v1h-1zM572 87h1v1h-1zM569 88h1v1h-1zM572 88h1v1h-1zM569 89h5v1h-5zM572 90h1v1h-1zM572 91h1v1h-1z"/>
</svg>
<div class="s" style="left:310px;top:13px;width:48px">p3600_13</div><div class="s r" style="left:0;top:74px;width:41px">4000</div><div class="s r" style="left:0;top:157px;width:41px">2000</div><div class="s r" style="left:0;top:240px;width:41px">0</div><div class="s r" style="left:0;top:323px;width:41px">&#8722;2000</div><div class="s r" style="left:0;top:406px;width:41px">&#8722;4000</div><div class="s c" style="left:21px;top:461px;width:60px">0</div><div class="s c" style="left:127px;top:461px;width:60px">100</div><div class="s c" style="left:233px;top:461px;width:60px">200</div><div class="s c" style="left:339px;top:461px;width:60px">300</div><div class="s c" style="left:445px;top:461px;width:60px">400</div><div class="s c" style="left:552px;top:461px;width:60px">500</div><div class="s m" style="left:539px;top:43px;width:36px">line 1</div><div class="s m" style="left:539px;top:56px;width:36px">line 2</div><div class="s m" style="left:539px;top:69px;width:36px">line 3</div><div class="s m" style="left:539px;top:82px;width:36px">line 4</div>
</body></html>
